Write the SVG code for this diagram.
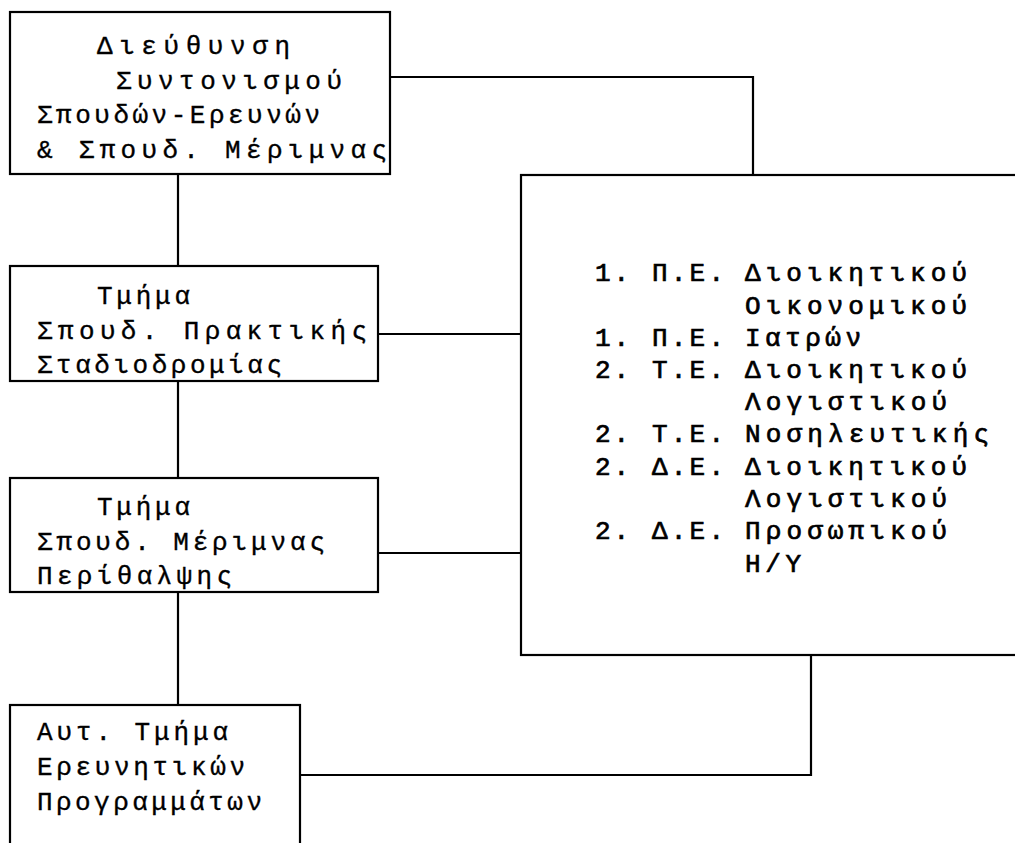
<svg xmlns="http://www.w3.org/2000/svg" width="1015" height="843" viewBox="0 0 1015 843">
<style>
.box{fill:#fff;stroke:#000;stroke-width:2.2}
.ln{fill:none;stroke:#000;stroke-width:2.2}
.t{font-family:"Liberation Mono","DejaVu Sans Mono",monospace;font-size:26px;fill:#000;stroke:#000;stroke-width:0.35}
.r{font-family:"Liberation Mono","DejaVu Sans Mono",monospace;font-size:26px;fill:#000;stroke:#000;stroke-width:0.7}
</style>
<rect width="1015" height="843" fill="#fff"/>
<g id="connectors">
<path class="ln" d="M390 77 H753 V175"/>
<path class="ln" d="M178 174 V266"/>
<path class="ln" d="M378 334 H521"/>
<path class="ln" d="M178 381 V478"/>
<path class="ln" d="M378 553 H521"/>
<path class="ln" d="M178 592 V705"/>
<path class="ln" d="M300 775 H811 V655"/>
</g>
<g id="n1">
<rect class="box" x="10" y="12" width="380" height="162"/>
<text class="t" x="97" y="54" textLength="193" lengthAdjust="spacing">Διεύθυνση</text>
<text class="t" x="116" y="89" textLength="226" lengthAdjust="spacing">Συντονισμού</text>
<text class="t" x="37" y="123" textLength="283" lengthAdjust="spacing">Σπουδών-Ερευνών</text>
<text class="t" x="37" y="158" textLength="350" lengthAdjust="spacing">&amp; Σπουδ. Μέριμνας</text>
</g>
<g id="n2">
<rect class="box" x="10" y="266" width="368" height="115"/>
<text class="t" x="97" y="304" textLength="93" lengthAdjust="spacing">Τμήμα</text>
<text class="t" x="37" y="339" textLength="330" lengthAdjust="spacing">Σπουδ. Πρακτικής</text>
<text class="t" x="37" y="373" textLength="245" lengthAdjust="spacing">Σταδιοδρομίας</text>
</g>
<g id="n3">
<rect class="box" x="10" y="478" width="368" height="114"/>
<text class="t" x="97" y="515" textLength="93" lengthAdjust="spacing">Τμήμα</text>
<text class="t" x="37" y="550" textLength="288" lengthAdjust="spacing">Σπουδ. Μέριμνας</text>
<text class="t" x="37" y="584" textLength="195" lengthAdjust="spacing">Περίθαλψης</text>
</g>
<g id="n4">
<rect class="box" x="10" y="705" width="290" height="160"/>
<text class="t" x="37" y="740" textLength="191" lengthAdjust="spacing">Αυτ. Τμήμα</text>
<text class="t" x="37" y="775" textLength="208" lengthAdjust="spacing">Ερευνητικών</text>
<text class="t" x="37" y="810" textLength="225" lengthAdjust="spacing">Προγραμμάτων</text>
</g>
<g id="n5">
<rect class="box" x="521" y="175" width="520" height="480"/>
<text class="r" x="595" y="281" textLength="34" lengthAdjust="spacing">1.</text>
<text class="r" x="652" y="281" textLength="72" lengthAdjust="spacing">Π.Ε.</text>
<text class="r" x="745" y="281" textLength="222" lengthAdjust="spacing">Διοικητικού</text>
<text class="r" x="745" y="314" textLength="222" lengthAdjust="spacing">Οικονομικού</text>
<text class="r" x="595" y="346" textLength="34" lengthAdjust="spacing">1.</text>
<text class="r" x="652" y="346" textLength="72" lengthAdjust="spacing">Π.Ε.</text>
<text class="r" x="745" y="346" textLength="116" lengthAdjust="spacing">Ιατρών</text>
<text class="r" x="595" y="378" textLength="34" lengthAdjust="spacing">2.</text>
<text class="r" x="652" y="378" textLength="72" lengthAdjust="spacing">Τ.Ε.</text>
<text class="r" x="745" y="378" textLength="222" lengthAdjust="spacing">Διοικητικού</text>
<text class="r" x="745" y="410" textLength="202" lengthAdjust="spacing">Λογιστικού</text>
<text class="r" x="595" y="442" textLength="34" lengthAdjust="spacing">2.</text>
<text class="r" x="652" y="442" textLength="72" lengthAdjust="spacing">Τ.Ε.</text>
<text class="r" x="745" y="442" textLength="244" lengthAdjust="spacing">Νοσηλευτικής</text>
<text class="r" x="595" y="475" textLength="34" lengthAdjust="spacing">2.</text>
<text class="r" x="652" y="475" textLength="72" lengthAdjust="spacing">Δ.Ε.</text>
<text class="r" x="745" y="475" textLength="222" lengthAdjust="spacing">Διοικητικού</text>
<text class="r" x="745" y="507" textLength="202" lengthAdjust="spacing">Λογιστικού</text>
<text class="r" x="595" y="539" textLength="34" lengthAdjust="spacing">2.</text>
<text class="r" x="652" y="539" textLength="72" lengthAdjust="spacing">Δ.Ε.</text>
<text class="r" x="745" y="539" textLength="202" lengthAdjust="spacing">Προσωπικού</text>
<text class="r" x="745" y="572" textLength="56" lengthAdjust="spacing">Η/Υ</text>
</g>
</svg>
